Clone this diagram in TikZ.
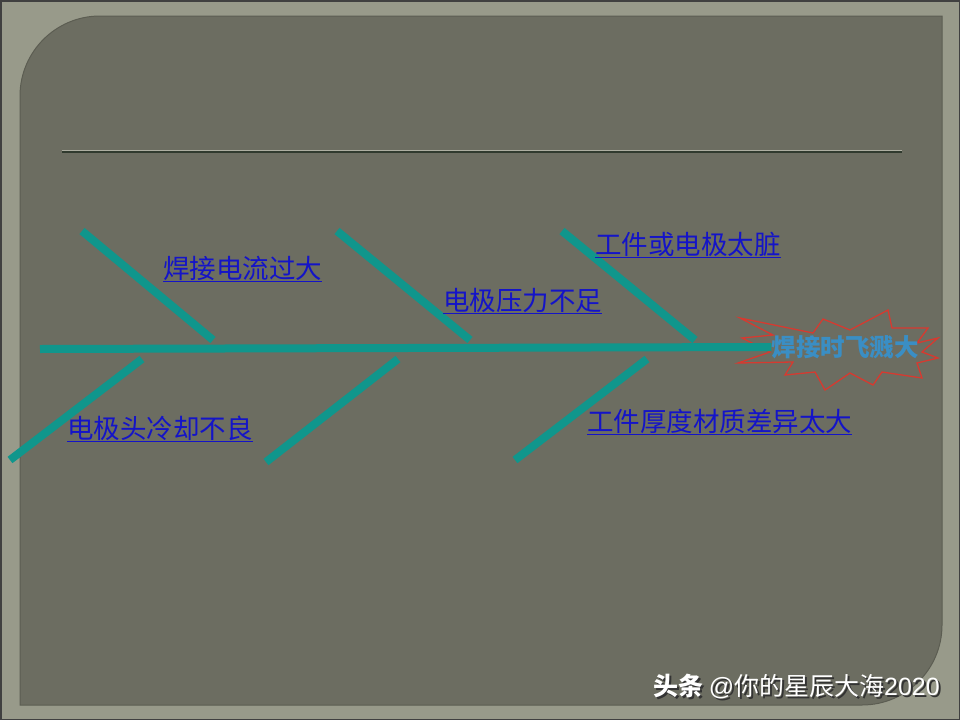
\documentclass[tikz,border=0pt]{standalone}
\usepackage{fontspec}
\newfontfamily\cjk{Noto Sans CJK SC}
\newfontfamily\wmlatin{Liberation Sans}
\definecolor{framecol}{RGB}{152,154,138}
\definecolor{panelcol}{RGB}{108,109,97}
\definecolor{bonecol}{RGB}{16,150,140}
\definecolor{causecol}{RGB}{20,20,200}
\definecolor{effectcol}{RGB}{58,142,196}
\definecolor{burstcol}{RGB}{214,58,48}
\definecolor{rulecol}{RGB}{48,58,46}
\newcommand\wmtext{{\bfseries 头条} {\wmlatin @}你的星辰大海{\wmlatin 2020}}
\begin{document}
\begin{tikzpicture}[x=1pt,y=-1pt,
    bone/.style={draw=bonecol,line width=8pt},
    cause/.style={anchor=base west,inner sep=0pt,text=causecol,
      font=\cjk\fontsize{26.5}{30}\selectfont},
    stamp/.style={anchor=base west,inner sep=0pt,
      font=\cjk\fontsize{25}{28}\selectfont}]
  \useasboundingbox (0,0) rectangle (960,720);
  % slide frame
  \fill[framecol] (0,0) rectangle (960,720);
  \draw[black!75,line width=1.5pt] (0.75,0.75) rectangle (959.25,719.25);
  \fill[panelcol,draw=panelcol!85!black,line width=1pt]
    (20,705) -- (20,96) .. controls (20,51.8) and (55.8,16) .. (100,16)
    -- (942,16) -- (942,625) .. controls (942,669.2) and (906.2,705) .. (862,705)
    -- cycle;
  \draw[framecol!80!white,line width=0.8pt] (62,150) -- (902,150);
  \draw[rulecol,line width=1.8pt] (62,151.6) -- (902,151.6);
  % effect
  \draw[burstcol,line width=1.3pt,line join=miter]
    (740,318) -- (813,333) -- (823,319) -- (850,330) -- (888,310) -- (892,328)
    -- (928,328) -- (917,343) -- (938,338) -- (922,352) -- (938,358) -- (917,363)
    -- (922,378) -- (882,372) -- (873,385) -- (850,373) -- (825,390) -- (815,372)
    -- (785,375) -- (793,362) -- (738,363) -- (770,352) -- (742,338) -- (773,335)
    -- cycle;
  \node[inner sep=0pt,text=effectcol,font=\cjk\bfseries\fontsize{24.5}{28}\selectfont]
    (effect) at (845,347) {焊接时飞溅大};
  % bones
  \path
    (40,349) coordinate (tail)
    (82,231) coordinate (t1) (213,340) coordinate (h1)
    (337,231) coordinate (t2) (470,340) coordinate (h2)
    (562,231) coordinate (t3) (695,340) coordinate (h3)
    (10,460) coordinate (t4) (142,359) coordinate (h4)
    (266,462) coordinate (t5) (398,359) coordinate (h5)
    (515,460) coordinate (t6) (647,359) coordinate (h6);
  \begin{scope}[bone]
    \draw (tail) to (effect.west);
    \draw (t1) to (h1);
    \draw (t2) to (h2);
    \draw (t3) to (h3);
    \draw (h4) to (t4);
    \draw (h5) to (t5);
    \draw (h6) to (t6);
  \end{scope}
  % causes
  \node[cause] (current) at (163,278) {\underline{焊接电流过大}};
  \node[cause] (pressure) at (443,310) {\underline{电极压力不足}};
  \node[cause] (dirty) at (595,254) {\underline{工件或电极太脏}};
  \node[cause] (cooling) at (67,438) {\underline{电极头冷却不良}};
  \node[cause] (material) at (587,431) {\underline{工件厚度材质差异太大}};
  % watermark, with its shadow
  \node[stamp] (label) at (653,695)
    {\rlap{\hspace{2pt}\raisebox{-2pt}{\color{black!80}\wmtext}}\color{white}\wmtext};
\end{tikzpicture}
\end{document}
